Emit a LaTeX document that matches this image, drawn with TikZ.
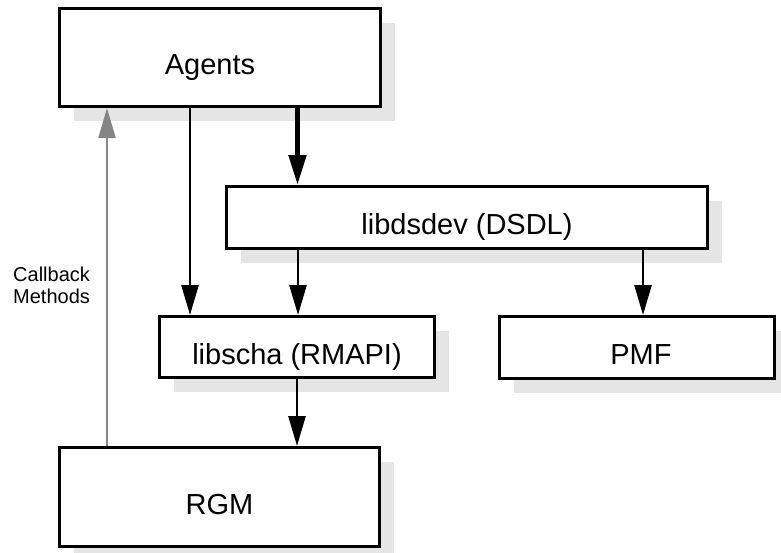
\documentclass[tikz,border=0pt]{standalone}
\usepackage{fontspec}
\setmainfont{Liberation Sans}
\usetikzlibrary{arrows.meta,shadows}
\definecolor{shadowgray}{HTML}{E5E5E5}
\definecolor{cbgray}{HTML}{858585}
\begin{document}
\begin{tikzpicture}[x=1pt,y=-1pt,
  box/.style={draw=black, line width=3pt, fill=white, inner sep=0pt,
    font=\fontsize{29}{34}\selectfont, text height=34pt, text depth=0pt,
    drop shadow={shadow xshift=14pt, shadow yshift=-14pt, fill=shadowgray, opacity=1}},
  arr/.style={line width=2.7pt, -{Triangle[length=30pt,width=17pt]}},
  thickarr/.style={line width=5pt, -{Triangle[length=30pt,width=17pt]}},
  cbarr/.style={line width=2pt, draw=cbgray, -{Triangle[length=30pt,width=17pt,fill=cbgray]}},
  lbl/.style={font=\fontsize{20}{22}\selectfont, align=left, inner sep=0pt}]
\useasboundingbox (0,0) rectangle (781,552);
\node[box, minimum width=321pt, minimum height=98pt] (agents) at (220,57.5) {Agents\hspace*{20pt}};
\node[box, minimum width=481pt, minimum height=62pt] (dsdl) at (467,217.5) {libdsdev (DSDL)};
\node[box, minimum width=275pt, minimum height=61pt] (scha) at (297,347) {libscha (RMAPI)};
\node[box, minimum width=275pt, minimum height=62pt] (pmf) at (637,347.5) {\hspace*{8pt}PMF};
\node[box, minimum width=320pt, minimum height=99pt] (rgm) at (219.5,497) {RGM};
\node[lbl, anchor=west] (cb) at (13,285.5) {Callback\\Methods};
\draw[arr] ([xshift=132pt]agents.south west) -- ([xshift=32pt]scha.north west);
\draw[thickarr] ([xshift=239.5pt]agents.south west) -- ([xshift=72.5pt]dsdl.north west);
\draw[arr] ([xshift=73pt]dsdl.south west) -- ([xshift=140pt]scha.north west);
\draw[arr] ([xshift=418pt]dsdl.south west) -- ([xshift=145pt]pmf.north west);
\draw[arr] ([xshift=139pt]scha.south west) -- ([xshift=239pt]rgm.north west);
\draw[cbarr] ([xshift=49pt]rgm.north west) -- ([xshift=49pt]agents.south west);
\end{tikzpicture}
\end{document}
